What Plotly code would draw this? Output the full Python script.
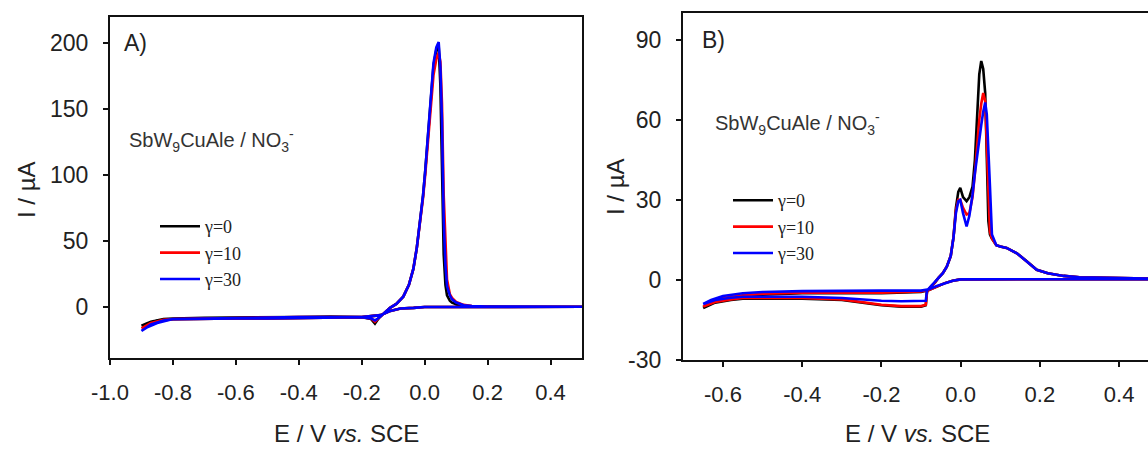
import plotly.graph_objects as go

W, H = 1148, 449

# ---------------- Panel A data ----------------
A_E_cath = [0.5, 0.3, 0.1, 0.0, -0.035, -0.077, -0.109, -0.14, -0.2, -0.3, -0.4, -0.5,
            -0.6, -0.7, -0.8, -0.85, -0.88, -0.9]
A_I0_cath = [0.3, 0.3, 0.4, 0.2, -0.5, -1, -2.8, -6, -7.5, -8, -8, -8.5, -8.5, -8.5, -9, -10, -12, -14]
A_I10_cath = [0.3, 0.3, 0.4, 0.2, -0.5, -1, -2.8, -6, -7.5, -8, -8, -8.5, -8.5, -8.5, -9, -11, -13.5, -16]
A_I30_cath = [0.3, 0.3, 0.4, 0.2, -0.5, -1, -2.8, -6, -7.5, -8, -8, -8.5, -8.5, -8.5, -9, -12, -15, -18]

A_E_anod = [-0.9, -0.87, -0.83, -0.8, -0.7, -0.6, -0.5, -0.4, -0.3, -0.2, -0.17, -0.158, -0.145,
            -0.13, -0.11, -0.09, -0.068, -0.05, -0.036, -0.025, -0.014, -0.005, 0.002, 0.01,
            0.018, 0.028, 0.037, 0.0445, 0.05, 0.055, 0.0605, 0.066, 0.071, 0.08, 0.087, 0.1,
            0.124, 0.15, 0.2, 0.3, 0.4, 0.5]
A_I0_anod = [-14, -11, -9, -8.5, -8, -8, -7.5, -7.5, -7, -7.5, -9, -12.5, -8, -4.5, -0.5, 2.5,
             8, 17, 29, 45, 66, 85, 104, 128, 155, 183, 195, 198, 168, 105, 40, 17, 9, 5, 3.5,
             2.2, 1.2, 0.7, 0.5, 0.3, 0.3, 0.3]
A_I10_anod = [-16, -12, -9.5, -9, -8.5, -8, -8, -7.5, -7.5, -7.5, -8.5, -11, -8, -4.5, -0.5, 2.5,
              8, 17, 29, 45, 65, 83, 101, 124, 150, 176, 188, 193, 186, 155, 85, 42, 21, 10, 7,
              4, 1.8, 0.9, 0.5, 0.3, 0.3, 0.3]
A_I30_anod = [-18, -13, -10, -9, -8.5, -8, -8, -7.5, -7.5, -7.5, -8.5, -10, -8, -4.5, -0.5, 2.5,
              8, 17, 29, 45, 66, 85, 104, 128, 155, 185, 197, 201, 182, 142, 66, 32, 16, 9, 6,
              3.5, 1.5, 0.8, 0.5, 0.3, 0.3, 0.3]

A_xticks = [-1.0, -0.8, -0.6, -0.4, -0.2, 0.0, 0.2, 0.4]
A_xticklabels = ["-1.0", "-0.8", "-0.6", "-0.4", "-0.2", "0.0", "0.2", "0.4"]
A_yticks = [0, 50, 100, 150, 200]
A_yticklabels = ["0", "50", "100", "150", "200"]

# ---------------- Panel B data ----------------
B_E_cath = [0.5, 0.3, 0.1, 0.0, -0.02, -0.04, -0.06, -0.08, -0.1, -0.2, -0.3, -0.4, -0.5,
            -0.55, -0.6, -0.63, -0.65]
B_I0_cath = [0.3, 0.3, 0.3, 0.2, -0.3, -1.2, -2.5, -3.8, -4.5, -5, -5, -5, -5.5, -6, -7, -8.5, -10.5]
B_I10_cath = [0.3, 0.3, 0.3, 0.2, -0.3, -1.2, -2.5, -3.8, -4.3, -4.8, -4.8, -4.8, -5.2, -5.8, -6.8, -8.3, -10]
B_I30_cath = [0.3, 0.3, 0.3, 0.2, -0.3, -1.2, -2.3, -3.5, -4, -4, -4, -4.2, -4.5, -5, -6, -7.5, -9]

B_E_anod = [-0.65, -0.62, -0.58, -0.55, -0.5, -0.4, -0.3, -0.25, -0.2, -0.15, -0.1, -0.088,
            -0.085, -0.075, -0.065, -0.055, -0.045, -0.035, -0.025, -0.018, -0.012, -0.006,
            -0.001, 0.006, 0.015, 0.022, 0.03, 0.036, 0.041, 0.047, 0.052, 0.057, 0.062, 0.066,
            0.07, 0.074, 0.079, 0.09, 0.1, 0.116, 0.142, 0.167, 0.192, 0.22, 0.26, 0.3, 0.4, 0.5]
B_I0_anod = [-10.5, -8.5, -7.5, -7, -7, -7, -7.5, -8.5, -9.5, -10, -10,
             -9.5, -4.5, -2.5, -1, 1, 2.5, 5, 9, 16, 27, 33, 34.5,
             31, 29.5, 31, 35, 45, 62, 77, 82, 79, 70, 46, 22, 17, 15.5,
             13, 12.5, 12, 10, 7, 3.8, 2.5, 1.5, 1, 0.6, 0.4]
B_I10_anod = [-10, -8.3, -7.3, -6.8, -6.8, -6.8, -7.3, -8.3, -9.3, -9.8, -9.8,
              -9.3, -4.5, -2.5, -1, 1, 2.5, 5, 9, 16, 26, 30, 30,
              27, 24.5, 25, 31, 40, 50, 60, 66, 70, 67, 50, 27, 18, 15.5,
              13, 12.5, 12, 10, 7, 3.8, 2.5, 1.5, 1, 0.6, 0.4]
B_I30_anod = [-9, -7.5, -6.7, -6.3, -6.3, -6.3, -6.8, -7.3, -7.8, -8, -8,
              -7.8, -4, -2.3, -1, 1, 2.5, 5, 9, 16, 25, 29.5, 30,
              25, 20, 24, 32, 40, 46, 54, 58, 63, 66.5, 62, 50, 35, 17,
              13, 12.5, 12, 10, 7, 3.8, 2.5, 1.5, 1, 0.6, 0.4]

B_xticks = [-0.6, -0.4, -0.2, 0.0, 0.2, 0.4]
B_xticklabels = ["-0.6", "-0.4", "-0.2", "0.0", "0.2", "0.4"]
B_yticks = [-30, 0, 30, 60, 90]
B_yticklabels = ["-30", "0", "30", "60", "90"]

series_names = ["\u03b3=0", "\u03b3=10", "\u03b3=30"]
series_colors = ["#000000", "#ff0000", "#0000ff"]

A_I = [(A_I0_cath, A_I0_anod), (A_I10_cath, A_I10_anod), (A_I30_cath, A_I30_anod)]
B_I = [(B_I0_cath, B_I0_anod), (B_I10_cath, B_I10_anod), (B_I30_cath, B_I30_anod)]

fig = go.Figure()
for name, col, (ic, ia) in zip(series_names, series_colors, A_I):
    fig.add_trace(go.Scatter(x=A_E_cath + A_E_anod, y=ic + ia, mode="lines", name=name,
                             line=dict(color=col, width=2.6), xaxis="x", yaxis="y",
                             legend="legend"))
for name, col, (ic, ia) in zip(series_names, series_colors, B_I):
    fig.add_trace(go.Scatter(x=B_E_cath + B_E_anod, y=ic + ia, mode="lines", name=name,
                             line=dict(color=col, width=2.6), xaxis="x2", yaxis="y2",
                             legend="legend2"))

def px(x):
    return x / W

def py(y):
    return 1 - y / H

xtickfont = dict(family="Liberation Sans, Arial, sans-serif", size=22, color="#222222")
ytickfont = dict(family="Liberation Sans, Arial, sans-serif", size=23, color="#222222")
axcommon = dict(showline=True, linecolor="#111111", linewidth=2.2, ticks="outside", ticklen=5,
                tickwidth=1.5, tickcolor="#111111", showgrid=False, zeroline=False,
                automargin=False)

legfont = dict(family="Liberation Serif, Times New Roman, serif", size=18, color="#222222")
fig.update_layout(
    width=W, height=H, autosize=False,
    margin=dict(l=0, r=0, t=0, b=0, pad=0, autoexpand=False),
    paper_bgcolor="white", plot_bgcolor="white",
    xaxis=dict(domain=[px(110), px(582)], range=[-1.0, 0.5], tickvals=A_xticks, ticktext=A_xticklabels,
               anchor="y", mirror=True, ticklabelstandoff=8, tickfont=xtickfont, **axcommon),
    yaxis=dict(domain=[py(358), py(17)], range=[-38.5, 220], tickvals=A_yticks, ticktext=A_yticklabels,
               anchor="x", mirror=True, ticklabelstandoff=10, tickfont=ytickfont, **axcommon),
    xaxis2=dict(domain=[px(683), 1.0], range=[-0.701, 0.473], tickvals=B_xticks, ticktext=B_xticklabels,
                anchor="y2", mirror=True, ticklabelstandoff=8, tickfont=xtickfont, **axcommon),
    yaxis2=dict(domain=[py(360), py(13)], range=[-30, 100], tickvals=B_yticks, ticktext=B_yticklabels,
                anchor="x2", mirror=False, ticklabelstandoff=10, tickfont=ytickfont, **axcommon),
    legend=dict(x=px(155), y=py(208), xanchor="left", yanchor="top", bgcolor="rgba(0,0,0,0)",
                font=legfont, itemwidth=40, tracegroupgap=0),
    legend2=dict(x=px(728), y=py(182), xanchor="left", yanchor="top", bgcolor="rgba(0,0,0,0)",
                 font=legfont, itemwidth=40, tracegroupgap=0),
    showlegend=True,
)

labfont = dict(family="Liberation Sans, Arial, sans-serif", size=23, color="#222222")
titlefont = dict(family="Liberation Sans, Arial, sans-serif", size=24, color="#222222")
subfont = dict(family="Liberation Sans, Arial, sans-serif", size=20, color="#333333")
compound = "SbW<sub>9</sub>CuAle / NO<sub>3</sub><sup>-</sup>"
annots = [
    dict(text="A)", x=px(122), y=py(43), xanchor="left", yanchor="middle", font=labfont),
    dict(text=compound, x=px(127), y=py(140), xanchor="left", yanchor="middle", font=subfont),
    dict(text="B)", x=px(700), y=py(40), xanchor="left", yanchor="middle", font=labfont),
    dict(text=compound, x=px(713), y=py(124), xanchor="left", yanchor="middle", font=subfont),
    dict(text="E / V <i>vs.</i> SCE", x=px(346), y=py(433), xanchor="center", yanchor="middle", font=titlefont),
    dict(text="E / V <i>vs.</i> SCE", x=px(917), y=py(433), xanchor="center", yanchor="middle", font=titlefont),
    dict(text="I / \u00b5A", x=px(26), y=py(190), xanchor="center", yanchor="middle", textangle=-90, font=titlefont),
    dict(text="I / \u00b5A", x=px(616), y=py(187), xanchor="center", yanchor="middle", textangle=-90, font=titlefont),
]
for a in annots:
    a.update(xref="paper", yref="paper", showarrow=False)
fig.update_layout(annotations=annots)

fig.write_html("out.html", config={"responsive": False, "displayModeBar": False},
               post_script="document.body.style.margin='0';document.body.style.overflow='hidden';")
